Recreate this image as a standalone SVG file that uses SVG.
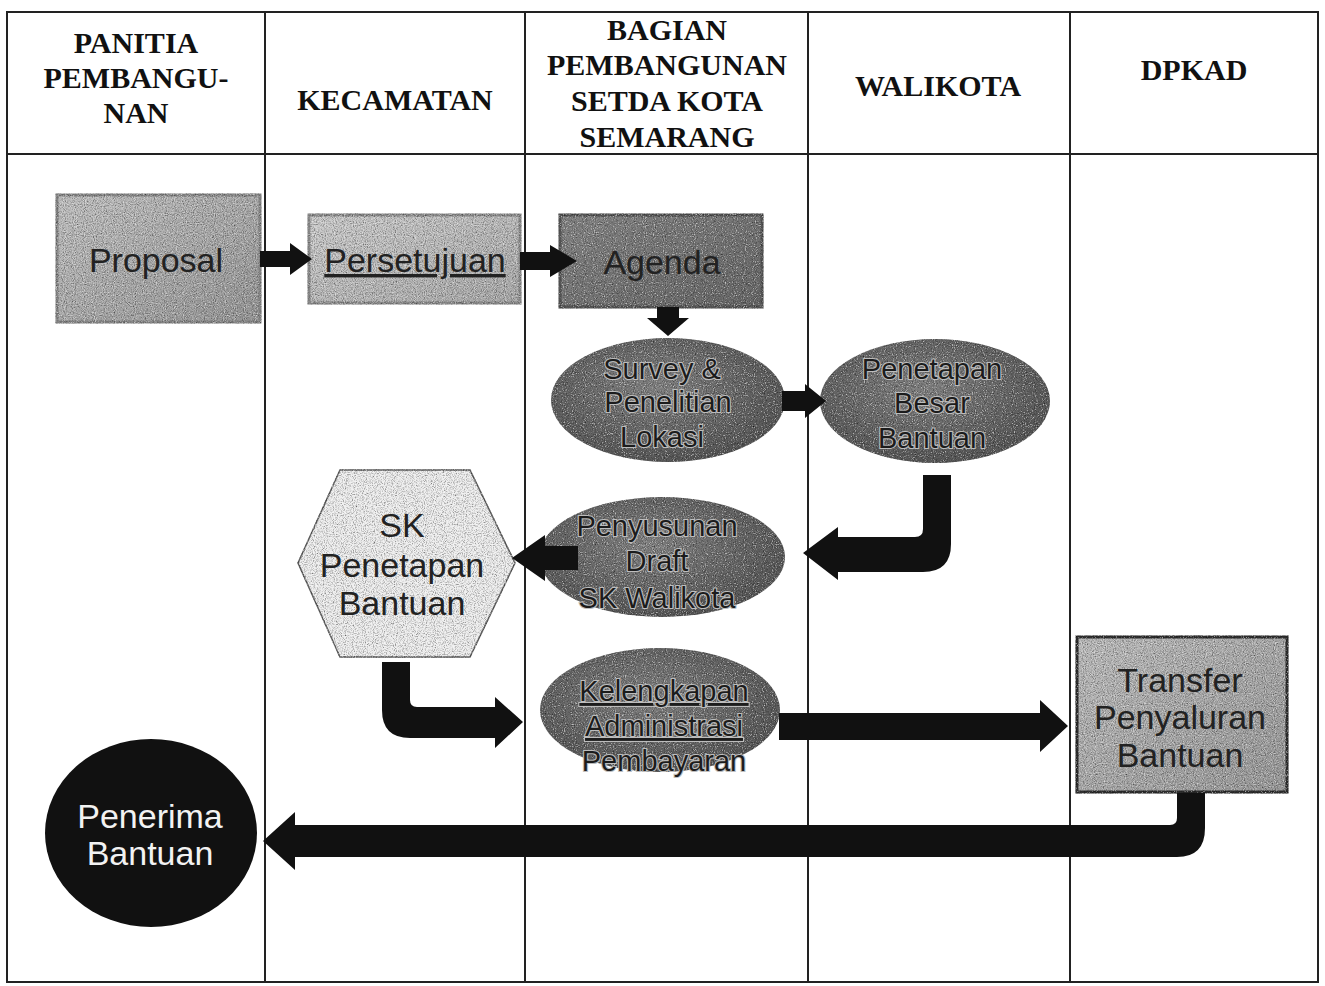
<svg xmlns="http://www.w3.org/2000/svg" width="1325" height="986" viewBox="0 0 1325 986">
<style>
.hdr{font-family:"Liberation Serif","Times New Roman",serif;font-weight:bold;font-size:30px;fill:#111;text-anchor:middle}
.lane{stroke:#222;stroke-width:2;fill:none}
.nt{font-family:"Liberation Sans",Arial,sans-serif;font-size:34px;fill:#222;text-anchor:middle}
.et{font-family:"Liberation Sans",Arial,sans-serif;font-size:29px;fill:#1c1c1c;text-anchor:middle;stroke:#bdbdbd;stroke-width:2.2;paint-order:stroke}
.ul{text-decoration:underline}
.arr{fill:#111}
.gr{filter:url(#grain)}
</style>
<defs>
<filter id="grain" x="-3%" y="-3%" width="106%" height="106%">
<feTurbulence type="fractalNoise" baseFrequency="0.9" numOctaves="2" seed="4" result="n"/>
<feColorMatrix in="n" type="matrix" values="0 0 0 0 0  0 0 0 0 0  0 0 0 0 0  1.8 0 0 0 -0.78" result="dark"/>
<feComposite in="dark" in2="SourceGraphic" operator="in" result="darkIn"/>
<feColorMatrix in="n" type="matrix" values="0 0 0 0 1  0 0 0 0 1  0 0 0 0 1  -1.8 0 0 0 0.72" result="light"/>
<feComposite in="light" in2="SourceGraphic" operator="in" result="lightIn"/>
<feMerge><feMergeNode in="SourceGraphic"/><feMergeNode in="darkIn"/><feMergeNode in="lightIn"/></feMerge>
</filter>
<linearGradient id="gProp" x1="0" y1="0" x2="1" y2="1"><stop offset="0" stop-color="#c4c4c4"/><stop offset="1" stop-color="#9a9a9a"/></linearGradient>
<linearGradient id="gPers" x1="0" y1="0" x2="1" y2="1"><stop offset="0" stop-color="#cfcfcf"/><stop offset="1" stop-color="#acacac"/></linearGradient>
<linearGradient id="gAg" x1="0" y1="0" x2="1" y2="1"><stop offset="0" stop-color="#888"/><stop offset="1" stop-color="#6a6a6a"/></linearGradient>
<radialGradient id="gEl" cx="0.45" cy="0.4" r="0.6"><stop offset="0" stop-color="#858585"/><stop offset="1" stop-color="#5a5a5a"/></radialGradient>
<linearGradient id="gTr" x1="0" y1="0" x2="1" y2="1"><stop offset="0" stop-color="#c0c0c0"/><stop offset="1" stop-color="#9c9c9c"/></linearGradient>
</defs>
<rect width="1325" height="986" fill="#fff"/>
<g id="table">
<rect class="lane" x="7" y="12" width="1311" height="970"/>
<line class="lane" x1="7" y1="154" x2="1318" y2="154"/>
<line class="lane" x1="265" y1="12" x2="265" y2="982"/>
<line class="lane" x1="525" y1="12" x2="525" y2="982"/>
<line class="lane" x1="808" y1="12" x2="808" y2="982"/>
<line class="lane" x1="1070" y1="12" x2="1070" y2="982"/>
</g>
<g id="headers">
<text class="hdr" x="136" y="53">PANITIA</text>
<text class="hdr" x="136" y="88">PEMBANGU-</text>
<text class="hdr" x="136" y="123">NAN</text>
<text class="hdr" x="395" y="110">KECAMATAN</text>
<text class="hdr" x="667" y="40">BAGIAN</text>
<text class="hdr" x="667" y="75">PEMBANGUNAN</text>
<text class="hdr" x="667" y="111">SETDA KOTA</text>
<text class="hdr" x="667" y="147">SEMARANG</text>
<text class="hdr" x="938" y="96">WALIKOTA</text>
<text class="hdr" x="1194" y="80">DPKAD</text>
</g>
<g id="n-proposal">
<rect class="gr" x="57" y="195" width="203" height="127" fill="url(#gProp)" stroke="#8a8a8a" stroke-width="3"/>
<text class="nt" x="156" y="272">Proposal</text>
</g>
<g id="n-persetujuan">
<rect class="gr" x="309" y="215" width="211" height="88" fill="url(#gPers)" stroke="#8e8e8e" stroke-width="3"/>
<text class="nt ul" x="415" y="272">Persetujuan</text>
</g>
<g id="n-agenda">
<rect class="gr" x="560" y="215" width="202" height="92" fill="url(#gAg)" stroke="#5a5a5a" stroke-width="3"/>
<text class="nt" x="662" y="274">Agenda</text>
</g>
<g id="n-survey">
<ellipse class="gr" cx="668" cy="400" rx="117" ry="62" fill="url(#gEl)"/>
<text class="et" x="662" y="379">Survey &amp;</text>
<text class="et" x="668" y="412">Penelitian</text>
<text class="et" x="662" y="447">Lokasi</text>
</g>
<g id="n-penetapan">
<ellipse class="gr" cx="935" cy="401" rx="115" ry="62" fill="url(#gEl)"/>
<text class="et" x="932" y="379">Penetapan</text>
<text class="et" x="932" y="413">Besar</text>
<text class="et" x="932" y="448">Bantuan</text>
</g>
<g id="n-penyusunan">
<ellipse class="gr" cx="662" cy="557" rx="123" ry="60" fill="url(#gEl)"/>
<text class="et" x="657" y="536">Penyusunan</text>
<text class="et" x="657" y="571">Draft</text>
<text class="et" x="657" y="608">SK Walikota</text>
</g>
<g id="n-sk">
<polygon class="gr" points="340,470 470,470 515,563 470,657 340,657 298,563" fill="#efefef" stroke="#666" stroke-width="1.5"/>
<text class="nt" x="402" y="537">SK</text>
<text class="nt" x="402" y="577">Penetapan</text>
<text class="nt" x="402" y="615">Bantuan</text>
</g>
<g id="n-kelengkapan">
<ellipse class="gr" cx="660" cy="710" rx="120" ry="62" fill="url(#gEl)"/>
<text class="et ul" x="664" y="701">Kelengkapan</text>
<text class="et ul" x="664" y="736">Administrasi</text>
<text class="et" x="664" y="771">Pembayaran</text>
</g>
<g id="n-transfer">
<rect class="gr" x="1077" y="637" width="210" height="155" fill="url(#gTr)" stroke="#333" stroke-width="3"/>
<text class="nt" x="1180" y="692">Transfer</text>
<text class="nt" x="1180" y="729">Penyaluran</text>
<text class="nt" x="1180" y="767">Bantuan</text>
</g>
<g id="n-penerima">
<ellipse cx="151" cy="833" rx="106" ry="94" fill="#111"/>
<text class="nt" x="150" y="828" style="fill:#f2f2f2">Penerima</text>
<text class="nt" x="150" y="865" style="fill:#f2f2f2">Bantuan</text>
</g>
<g id="connectors">
<path class="arr" d="M260 251 L290 251 L290 243 L312 259 L290 275 L290 267 L260 267 Z"/>
<path class="arr" d="M520 252 L550 252 L550 245 L577 261 L550 277 L550 270 L520 270 Z"/>
<path class="arr" d="M657 307 L679 307 L679 318 L689 318 L668 336 L647 318 L657 318 Z"/>
<path class="arr" d="M782 391 L805 391 L805 384 L826 401 L805 418 L805 411 L782 411 Z"/>
<path class="arr" d="M923 475 L951 475 L951 544 Q951 572 923 572 L838 572 L838 580 L803 553 L838 527 L838 537 L915 537 Q923 537 923 529 Z"/>
<path class="arr" d="M578 546 L545 546 L545 535 L512 558 L545 581 L545 570 L578 570 Z"/>
<path class="arr" d="M382 662 L410 662 L410 700 Q410 707 417 707 L495 707 L495 697 L523 722 L495 748 L495 738 L410 738 Q382 738 382 710 Z"/>
<path class="arr" d="M779 713 L1040 713 L1040 700 L1068 726 L1040 752 L1040 740 L779 740 Z"/>
<path class="arr" d="M1177 793 L1205 793 L1205 828 Q1205 857 1177 857 L295 857 L295 870 L263 841 L295 812 L295 825 L1170 825 Q1177 825 1177 818 Z"/>
</g>
</svg>
